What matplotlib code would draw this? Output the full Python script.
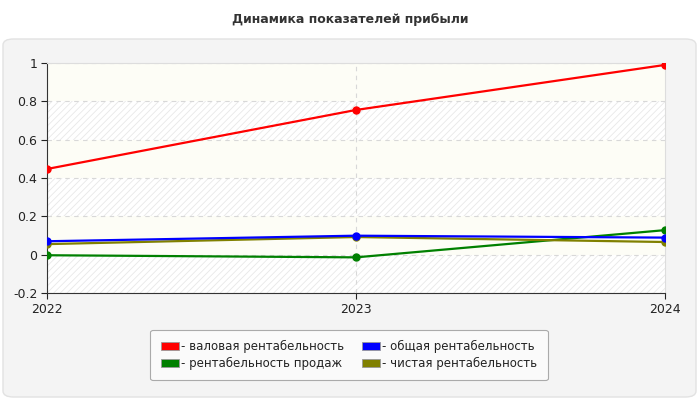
import matplotlib
matplotlib.use('Agg')
from matplotlib import pyplot as plt
from matplotlib.patches import FancyBboxPatch, Patch
import numpy as np

plt.rcParams['font.family'] = ['DejaVu Sans']
plt.rcParams['hatch.linewidth'] = 0.6

years = ['2022', '2023', '2024']
gross = [0.447, 0.755, 0.99]
total = [0.070, 0.099, 0.089]
sales = [-0.003, -0.014, 0.128]
net = [0.055, 0.092, 0.066]

series = [
    ('- валовая рентабельность', gross, '#ff0000'),
    ('- рентабельность продаж', sales, '#008000'),
    ('- общая рентабельность', total, '#0000ff'),
    ('- чистая рентабельность', net, '#808000'),
]
# порядок отрисовки (красная поверх)
draw_order = [1, 3, 2, 0]

fig = plt.figure(figsize=(7, 4), dpi=100)
fig.patch.set_facecolor('white')

# серая подложка с закруглёнными углами
bg = FancyBboxPatch((3 / 700, 3 / 400), 693 / 700, 358 / 400,
                    boxstyle='round,pad=0,rounding_size=0.015',
                    transform=fig.transFigure, facecolor='#f4f4f4',
                    edgecolor='#e2e2e2', linewidth=1.0, zorder=-5)
fig.patches.append(bg)

fig.text(0.5, 1 - 20 / 400, 'Динамика показателей прибыли', ha='center', va='center',
         fontsize=9, fontweight='bold', color='#333333')

ax = fig.add_axes([47 / 700, 107 / 400, 618 / 700, 230 / 400])
ax.set_facecolor('white')
x = np.arange(len(years))

# полосы фона
edges = np.arange(-0.2, 1.01, 0.2)
for i in range(len(edges) - 1):
    lo, hi = edges[i], edges[i + 1]
    if i % 2 == 0:
        ax.axhspan(lo, hi, facecolor='white', edgecolor='#e8e8e8', hatch='/////',
                   linewidth=0, zorder=0)
    else:
        ax.axhspan(lo, hi, facecolor='#fdfdf6', edgecolor='none', linewidth=0, zorder=0)

for k in draw_order:
    label, vals, color = series[k]
    ax.plot(x, vals, color=color, linewidth=1.6, marker='o', markersize=5, zorder=3)

ax.set_xlim(0, 2)
ax.set_ylim(-0.2, 1.0)
ax.set_yticks(edges)
ax.set_yticklabels(['-0.2', '0', '0.2', '0.4', '0.6', '0.8', '1'])
ax.set_xticks(x)
ax.set_xticklabels(years)
ax.tick_params(axis='both', labelsize=9, colors='#222222', length=4, width=0.8)
ax.tick_params(axis='y', pad=3)

ax.grid(axis='y', color='#d8d8d8', linestyle=(0, (4, 4)), linewidth=0.8, zorder=1)
ax.axvline(1, color='#d8d8d8', linestyle=(0, (4, 4)), linewidth=0.8, zorder=1)

ax.spines['left'].set_color('#333333')
ax.spines['bottom'].set_color('#333333')
ax.spines['top'].set_color('#dddddd')
ax.spines['right'].set_color('#dddddd')

handles = [Patch(facecolor=c, edgecolor='#999999', linewidth=0.6) for _, _, c in series]
labels = [s[0] for s in series]
leg = fig.legend(handles, labels, loc='center', bbox_to_anchor=(349 / 700, 1 - 355 / 400),
                 ncol=2, fontsize=8.5, frameon=True, fancybox=True,
                 handlelength=1.5, handleheight=0.7, handletextpad=0.2,
                 columnspacing=1.5, borderpad=0.9, labelspacing=0.3)
leg.get_frame().set_facecolor('#fafafa')
leg.get_frame().set_edgecolor('#aaaaaa')
leg.get_frame().set_linewidth(0.8)
leg.get_frame().set_alpha(1)
for t in leg.get_texts():
    t.set_color('#222222')

fig.savefig('out.png', dpi=100)
